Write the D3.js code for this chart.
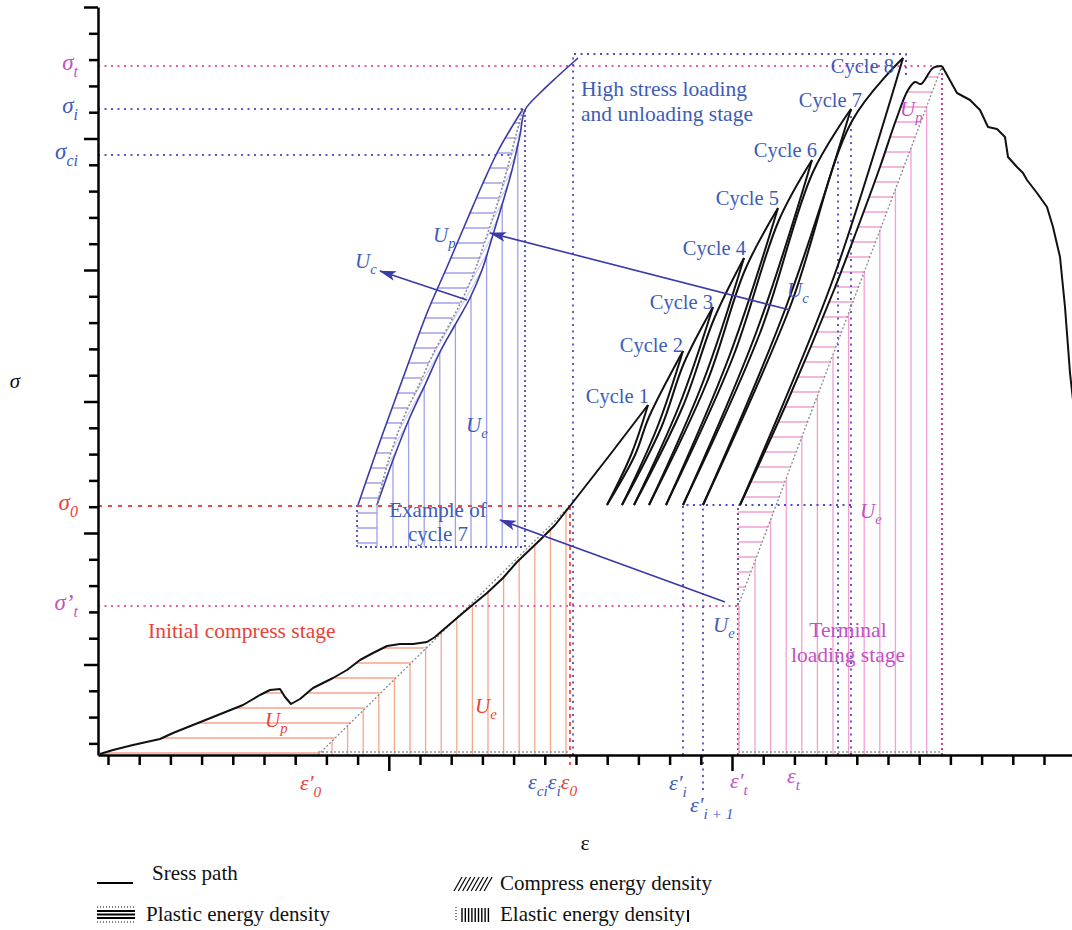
<!DOCTYPE html>
<html>
<head>
<meta charset="utf-8">
<script src="https://cdn.jsdelivr.net/npm/d3@7"></script>
<style>
  body { margin: 0; background: #fff; }
  text { font-family: "Liberation Serif", "DejaVu Serif", serif; }
</style>
</head>
<body>
<svg id="chart" width="1072" height="930"></svg>
<script>
// strain (eps) and stress (sigma) in arbitrary units
var initCurve = [[0.2,0.1],[1.5,0.5],[3.5,1.0],[6.2,1.6],[7.5,2.2],[9.5,3.0],[11.5,3.8],[13.5,4.6],
  [14.5,5.0],[16.2,6.0],[17.2,6.5],[18.2,6.6],[18.7,5.8],[19.3,5.1],[20.2,5.6],[21.5,6.7],[23.5,7.7],
  [24.9,8.5],[26.2,9.5],[27.5,10.2],[28.9,10.9],[30.2,11.1],[31.5,11.1],[32.9,11.3],[33.7,11.8],
  [34.5,12.5],[35.9,13.7],[37.2,14.8],[38.9,16.2],[40.5,17.7],[41.9,19.3],[44.2,21.5],[45.7,23.0],[47.2,24.9]];
var envelope = [[47.2,24.9],[51.1,29.9],[55.0,35.0]];

var cycles = ["Cycle 1","Cycle 2","Cycle 3","Cycle 4","Cycle 5","Cycle 6","Cycle 7","Cycle 8"];
var peaks = [[55.0,35.0],[58.5,40.4],[61.5,44.8],[64.6,49.7],[68.0,54.7],[71.4,59.5],[75.3,64.6],[80.5,69.7]];
var troughs = [[50.9,25.0],[52.4,25.0],[53.6,25.0],[55.1,25.0],[56.8,25.0],[58.5,25.0],[60.5,25.0],[64.2,25.0]];
var unloadMid = [[53.3,30.0],[55.9,32.7],[58.1,34.9],[60.5,37.3],[63.1,39.8],[65.8,42.2],[68.8,44.8],[73.4,47.3]];
var reloadMid = [[53.7,30.0],[56.3,32.7],[58.5,34.9],[60.9,37.3],[63.5,39.8],[66.2,42.2],[69.2,44.8]];
var reloadJoin = [[55.1,33.8],[58.6,39.2],[61.6,43.6],[64.7,48.5],[68.1,53.5],[71.5,58.3],[75.4,63.4]];

var terminalCurve = [[64.2,25.0],[69.0,35.5],[73.6,46.5],[76.0,52.8],[78.2,58.8],[79.8,63.5],[81.0,66.5],
  [81.7,67.3],[82.3,67.1],[83.5,68.7],[84.4,68.9]];
var postPeak = [[84.4,68.9],[85.9,66.2],[87.2,65.5],[88.2,64.5],[89.0,62.8],[89.9,62.6],[90.7,61.8],[91.0,59.8],
  [91.9,58.8],[92.5,58.2],[92.9,57.5],[93.9,56.2],[94.9,54.8],[95.5,52.8],[96.2,49.8],[96.7,44.8],[97.2,38.2],[97.5,35.5]];

// magnified cycle 7
var insetLoad = [[26.0,25.0],[27.2,28.5],[28.5,32.2],[29.7,35.5],[30.9,38.8],[32.9,44.2],[34.9,48.8],
  [36.9,53.5],[38.5,57.2],[39.9,60.2],[41.2,62.5],[42.5,64.6]];
var insetUnload = [[27.9,25.0],[29.5,29.5],[31.2,33.8],[32.7,37.0],[34.2,40.3],[35.7,43.0],[37.2,45.7],
  [38.4,48.5],[39.4,51.7],[40.4,55.0],[41.4,58.5],[42.2,62.0],[42.7,64.5]];
var insetReload = [[42.7,64.5],[44.2,66.2],[46.0,67.9],[48.0,69.7]];
var insetElastic = [[27.9,25.0],[29.0,29.3],[30.6,33.8],[32.1,37.0],[33.6,40.3],[35.1,43.0],[36.5,45.7],
  [37.7,48.5],[38.8,51.7],[39.9,55.0],[40.9,58.5],[41.8,62.0],[42.5,64.6]];
var insetBottom = 20.8, insetLeft = 25.9;

var eps0 = 47.2, sig0 = 24.9, eps0p = 22.0;
var epsTp = 64.0, sigTp = 14.9, epsT = 84.4, sigT = 68.9;
var sigI = 64.6, sigCi = 60.0, epsI = 75.3, epsCi = 74.0, sigCiTop = 59.5;
var boxLeft = 47.5, boxTop = 70.1, boxRight = 80.8;

var arrows = [
  [[36.9,45.5],[28.2,48.4]],
  [[69.2,44.5],[39.2,52.2]],
  [[62.7,15.3],[40.2,23.5]]
];

var W = 1072, H = 930;
var blue = "#3d5cb8", red = "#e8433a", magenta = "#c252c4", ink = "#3a3aa8";
var orangeH = "#f7a58c", pinkH = "#f2a0d0", blueH = "#a0a0e8";

var svg = d3.select("#chart");
var defs = svg.append("defs");

var x = d3.scaleLinear().domain([0, 97.4]).range([98, 1072]);
var y = d3.scaleLinear().domain([0, 74.8]).range([755, 7]);

var line = d3.line().x(function(d) { return x(d[0]); }).y(function(d) { return y(d[1]); });
var smooth = d3.line().x(function(d) { return x(d[0]); }).y(function(d) { return y(d[1]); })
    .curve(d3.curveCatmullRom.alpha(0.5));

function clip(id, polys) {
  var c = defs.append("clipPath").attr("id", id);
  polys.forEach(function(p) { c.append("path").attr("d", line(p) + "Z"); });
}

function hatch(id, dir, vals, color) {
  svg.append("g").attr("clip-path", "url(#" + id + ")")
    .selectAll("line").data(vals).enter().append("line")
      .attr("x1", function(d) { return dir === "h" ? 0 : x(d); })
      .attr("x2", function(d) { return dir === "h" ? W : x(d); })
      .attr("y1", function(d) { return dir === "h" ? y(d) : 0; })
      .attr("y2", function(d) { return dir === "h" ? y(d) : H; })
      .attr("stroke", color)
      .attr("stroke-width", 1.3);
}

function guide(pts, color, dash, width) {
  svg.append("path").attr("d", line(pts)).attr("fill", "none")
    .attr("stroke", color).attr("stroke-width", width || 1.8).attr("stroke-dasharray", dash);
}

// ---- hatched energy regions
var split = initCurve.filter(function(d) { return d[0] <= 33.7; });
var rest = initCurve.filter(function(d) { return d[0] >= 33.7; });
clip("initP", [split.concat([[eps0p, 0], [0.2, 0]])]);
clip("initE", [[[eps0p, 0]].concat(rest, [[eps0, 0]])]);
hatch("initP", "h", d3.range(0.2, 12, 1.5), orangeH);
hatch("initE", "v", d3.range(23.4, 47, 1.56), orangeH);

clip("termP", [[[epsTp, sigTp], [epsTp, 25.0]].concat(terminalCurve)]);
clip("termE", [[[epsTp, 0], [epsTp, sigTp], [epsT, sigT], [epsT, 0]]]);
hatch("termP", "h", d3.range(16.8, 68.5, 1.5), pinkH);
hatch("termE", "v", d3.range(65.7, 84, 1.56), pinkH);

clip("insP", [insetLoad.concat(insetElastic.slice().reverse()),
  [[insetLeft, insetBottom], [insetLeft, 25.0], [27.9, 25.0], [27.9, insetBottom]]]);
clip("insE", [[[27.9, insetBottom]].concat(insetUnload, [[42.7, insetBottom]])]);
hatch("insP", "h", d3.range(21.2, 64, 1.5), blueH);
hatch("insE", "v", d3.range(29.5, 42.5, 1.56), blueH);

defs.append("pattern").attr("id", "diag").attr("patternUnits", "userSpaceOnUse")
    .attr("width", 4).attr("height", 4).attr("patternTransform", "rotate(30)")
  .append("line").attr("x1", 0).attr("y1", 0).attr("x2", 0).attr("y2", 4)
    .attr("stroke", blueH).attr("stroke-width", 1.2);
svg.append("path").attr("d", line(insetElastic.concat(insetUnload.slice().reverse())) + "Z")
    .attr("fill", "url(#diag)");

// ---- guide lines
guide([[0, sigT], [epsT, sigT]], "#e65aa8", "2,4.5");
guide([[0, sigI], [42.7, sigI]], "#5a5ac8", "2,4.5");
guide([[0, sigCi], [41.5, sigCi]], "#5a5ac8", "2,4.5");
guide([[0, sig0], [eps0, sig0]], "#f04848", "4,6");
guide([[0, sigTp], [epsTp, sigTp]], "#e65aa8", "2,4.5");
guide([[eps0, sig0], [eps0, -1.0]], "#f04848", "4,4");
guide([[boxLeft, 0], [boxLeft, boxTop], [boxRight, boxTop], [boxRight, 68.0]], "#4c4cc4", "2,4.5");
guide([[insetLeft, 25.0], [insetLeft, insetBottom], [42.7, insetBottom], [42.7, sigI]], "#4c4cc4", "2,3");
guide([[troughs[5][0], 0], [troughs[5][0], 25.0], [epsI, 25.0]], "#4c4cc4", "2,4.5");
guide([[troughs[6][0], -3.5], [troughs[6][0], 25.0]], "#4c4cc4", "2,4.5");
guide([[epsCi, 0], [epsCi, sigCiTop]], "#4c4cc4", "2,4.5");
guide([[epsI, 0], [epsI, sigI]], "#4c4cc4", "2,4.5");
guide([[epsTp, 0], [epsTp, 25.0]], "#6a3a8a", "2,3");
guide([[epsT, 0], [epsT, sigT]], "#c8408f", "2,3", 2);
guide([[eps0p, 0], [eps0, sig0]], "#888", "2,2", 1.3);
guide([[epsTp, sigTp], [epsT, sigT]], "#888", "2,2", 1.3);
guide([[eps0p, 0.3], [eps0, 0.3]], "#999", "2,2", 1.3);
guide([[epsTp, 0.3], [epsT, 0.3]], "#999", "2,2", 1.3);
svg.append("path").attr("d", line([[epsTp + 0.1, sigTp], [epsTp + 0.1, 0]]))
  .attr("stroke", pinkH).attr("stroke-width", 1.5);
svg.append("path").attr("d", line([[27.9, 25.0], [27.9, insetBottom]]))
  .attr("stroke", blueH).attr("stroke-width", 1.3);

// ---- stress path
function black(d) {
  svg.append("path").attr("d", d).attr("fill", "none").attr("stroke", "#111")
    .attr("stroke-width", 2).attr("stroke-linejoin", "round");
}
black(line(initCurve));
black(line(envelope));
peaks.forEach(function(p, i) {
  black(smooth([p, unloadMid[i], troughs[i]]));
  if (i < peaks.length - 1) black(smooth([troughs[i], reloadMid[i], reloadJoin[i], peaks[i + 1]]));
});
black(smooth(terminalCurve));
black(line(postPeak));

// ---- inset loop
function inset(d, color, dash) {
  svg.append("path").attr("d", d).attr("fill", "none").attr("stroke", color)
    .attr("stroke-width", 1.6).attr("stroke-dasharray", dash || null);
}
inset(smooth(insetLoad), ink);
inset(smooth(insetUnload.concat(insetReload.slice(1))), ink);
inset(smooth(insetElastic), "#8a8a9a", "2,2");

// ---- arrows
defs.append("marker").attr("id", "arrow").attr("markerUnits", "userSpaceOnUse")
    .attr("markerWidth", 18).attr("markerHeight", 12).attr("refX", 16).attr("refY", 5)
    .attr("orient", "auto")
  .append("path").attr("d", "M0,0L17,5L0,10L4,5Z").attr("fill", ink);
arrows.forEach(function(a) {
  svg.append("path").attr("d", line(a)).attr("stroke", ink).attr("stroke-width", 1.6)
    .attr("marker-end", "url(#arrow)");
});

// ---- axes
var xTicks = d3.range(31).map(function(k) { return 1.0 + 3.12 * k; });
var yTicks = d3.range(29).map(function(k) { return 74.8 - 2.63 * k; });

var gy = svg.append("g").attr("transform", "translate(" + x(0) + ",0)")
  .call(d3.axisLeft(y).tickValues(yTicks).tickSize(9).tickSizeOuter(0).tickFormat(""));
gy.selectAll(".tick line").attr("x2", function(d, i) { return i % 5 === 0 ? -14 : -9; });
var gx = svg.append("g").attr("transform", "translate(0," + y(0) + ")")
  .call(d3.axisBottom(x).tickValues(xTicks).tickSize(10).tickSizeOuter(0).tickFormat(""));
gx.selectAll(".tick line").attr("y2", function(d, i) { return (i === 9 || i === 20) ? 16 : 10; });
svg.selectAll(".domain, .tick line").attr("stroke", "#000").attr("stroke-width", 2.5);

// ---- text
function mathText(xp, yp, parts, size, anchor) {
  var t = svg.append("text").attr("x", xp).attr("y", yp)
      .attr("text-anchor", anchor || "start")
      .style("font-size", size + "px").style("font-style", "italic");
  var down = false;
  parts.forEach(function(p) {
    var s = t.append("tspan").attr("fill", p[2]).text(p[0]);
    if (p[1] === "sub") {
      s.style("font-size", (size * 0.7) + "px");
      if (!down) { s.attr("dy", size * 0.3); down = true; }
    } else if (down) { s.attr("dy", -size * 0.3); down = false; }
  });
  return t;
}
function plain(xp, yp, txt, color, anchor, size) {
  return svg.append("text").attr("x", xp).attr("y", yp).attr("fill", color)
    .attr("text-anchor", anchor || "start").style("font-size", (size || 21) + "px").text(txt);
}

mathText(78, y(sigT) + 4, [["σ", "", magenta], ["t", "sub", magenta]], 23, "end");
mathText(78, y(sigI) + 4, [["σ", "", blue], ["i", "sub", blue]], 23, "end");
mathText(78, y(sigCi) + 4, [["σ", "", blue], ["ci", "sub", blue]], 23, "end");
mathText(78, y(sig0) + 4, [["σ", "", red], ["0", "sub", red]], 23, "end");
mathText(78, y(sigTp) + 4, [["σ’", "", magenta], ["t", "sub", magenta]], 23, "end");

mathText(x(eps0p) - 18, 790, [["ε′", "", red], ["0", "sub", red]], 22);
mathText(x(eps0) - 42, 789, [["ε", "", blue], ["ci", "sub", blue], ["ε", "", blue], ["i", "sub", blue],
  ["ε", "", red], ["0", "sub", red]], 22);
mathText(669, 790, [["ε′", "", blue], ["i", "sub", blue]], 22);
mathText(690, 812, [["ε′", "", blue], ["i + 1", "sub", blue]], 22);
mathText(730, 788, [["ε′", "", magenta], ["t", "sub", magenta]], 22);
mathText(787, 783, [["ε", "", magenta], ["t", "sub", magenta]], 22);

plain(585, 850, "ε", "#111", "middle", 22);
svg.append("text").attr("x", 15).attr("y", 388).attr("text-anchor", "middle")
  .style("font-size", "21px").style("font-style", "italic").attr("fill", "#111").text("σ");

var cycleLabelPos = [[649, 403], [683, 352], [713, 309], [746, 255], [779, 205], [817, 157], [862, 107], [894, 73]];
cycles.forEach(function(c, i) { plain(cycleLabelPos[i][0], cycleLabelPos[i][1], c, blue, "end", 20.5); });

plain(581, 96, "High stress loading", blue, "start", 21.5);
plain(581, 121, "and unloading stage", blue, "start", 21.5);
plain(438, 517, "Example of", blue, "middle");
plain(438, 541, "cycle 7", blue, "middle");
plain(148, 638, "Initial compress stage", red, "start", 21.5);
plain(848, 637, "Terminal", magenta, "middle", 21.5);
plain(848, 662, "loading stage", magenta, "middle", 21.5);

function U(xp, yp, sub, color) { mathText(xp, yp, [["U", "", color], [sub, "sub", color]], 21); }
U(433, 242, "p", blue);
U(355, 268, "c", blue);
U(466, 432, "e", blue);
U(787, 297, "c", blue);
U(713, 632, "e", blue);
U(860, 518, "e", magenta);
U(900, 116, "p", magenta);
U(265, 727, "p", red);
U(475, 713, "e", red);

// ---- legend
var lg = svg.append("g");
lg.append("line").attr("x1", 97).attr("x2", 133).attr("y1", 883).attr("y2", 883)
  .attr("stroke", "#000").attr("stroke-width", 2);
plain(152, 880, "Sress path", "#111");
[911, 914.5, 918].forEach(function(v) {
  lg.append("line").attr("x1", 97).attr("x2", 135).attr("y1", v).attr("y2", v)
    .attr("stroke", "#000").attr("stroke-width", 2);
});
[907, 922].forEach(function(v) {
  lg.append("line").attr("x1", 97).attr("x2", 135).attr("y1", v).attr("y2", v)
    .attr("stroke", "#000").attr("stroke-width", 1).attr("stroke-dasharray", "1,2");
});
plain(146, 921, "Plastic energy density", "#111");
d3.range(8).forEach(function(i) {
  lg.append("line").attr("x1", 454 + 4.3 * i).attr("x2", 462 + 4.3 * i).attr("y1", 891).attr("y2", 877)
    .attr("stroke", "#000").attr("stroke-width", 1.2);
});
plain(500, 890, "Compress energy density", "#111");
lg.append("line").attr("x1", 456).attr("x2", 456).attr("y1", 907).attr("y2", 922)
  .attr("stroke", "#000").attr("stroke-width", 1).attr("stroke-dasharray", "1,2");
d3.range(9).forEach(function(i) {
  lg.append("line").attr("x1", 462 + 3.3 * i).attr("x2", 462 + 3.3 * i).attr("y1", 908).attr("y2", 922)
    .attr("stroke", "#000").attr("stroke-width", 1.4);
});
var el = plain(500, 921, "Elastic energy density", "#111");
var elEnd = 500 + el.node().getComputedTextLength() + 3;
lg.append("line").attr("x1", elEnd).attr("x2", elEnd).attr("y1", 910).attr("y2", 922)
  .attr("stroke", "#000").attr("stroke-width", 2);
</script>
</body>
</html>
